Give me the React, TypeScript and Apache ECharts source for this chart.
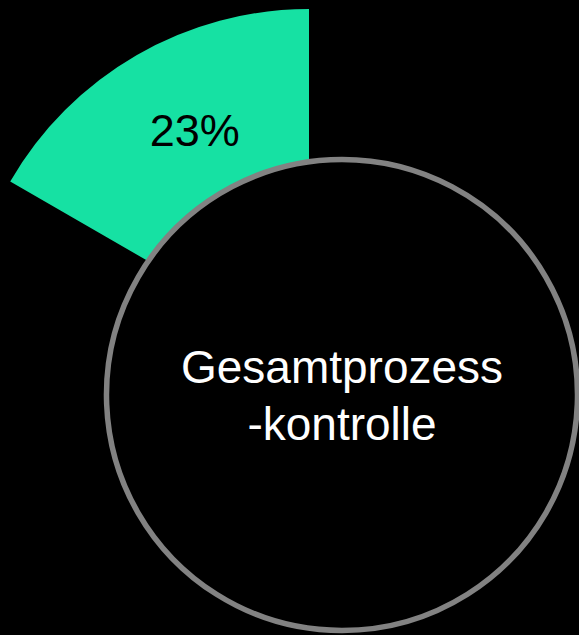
import React, { useEffect, useRef } from "react";
import * as echarts from "echarts";

// Data
const wheelSlots = 6; // the wheel is split into six equal slots
const segmentNames = ["Gesamtprozesskontrolle"];
const segmentShares = [23]; // percent shown in the visible slot
const centreLabelLines = ["Gesamtprozess", "-kontrolle"];

const FONT = "'Liberation Sans', Arial, sans-serif";

export default function App() {
  const ref = useRef<HTMLDivElement>(null);

  useEffect(() => {
    if (!ref.current) return;
    const chart = echarts.init(ref.current, undefined, { renderer: "svg" });

    const sectorData: any[] = [];
    for (let i = 0; i < wheelSlots; i++) {
      if (i < segmentNames.length) {
        sectorData.push({
          name: segmentNames[i],
          value: 1,
          itemStyle: { color: "#16e1a3" },
          label: {
            show: true,
            position: "inside",
            formatter: () => segmentShares[i] + "%",
            color: "#000",
            fontSize: 45,
            fontFamily: FONT,
            padding: [0, 0, 32, 30],
          },
        });
      } else {
        sectorData.push({
          name: "slot" + i,
          value: 1,
          itemStyle: { color: "transparent" },
          label: { show: false },
        });
      }
    }

    chart.setOption({
      animation: false,
      backgroundColor: "#000",
      series: [
        {
          type: "pie",
          z: 2,
          center: [309, 354],
          radius: [166, 345],
          startAngle: 90,
          clockwise: false,
          silent: true,
          avoidLabelOverlap: false,
          labelLine: { show: false },
          emphasis: { disabled: true },
          data: sectorData,
        },
        {
          type: "pie",
          z: 3,
          center: [342, 395],
          radius: [0, 235.5],
          silent: true,
          labelLine: { show: false },
          emphasis: { disabled: true },
          itemStyle: { color: "#000", borderColor: "#828282", borderWidth: 5.5 },
          label: {
            show: true,
            position: "center",
            formatter: () => centreLabelLines.join("\n"),
            color: "#fff",
            fontSize: 46,
            lineHeight: 57,
            fontFamily: FONT,
          },
          data: [{ name: segmentNames[0], value: 1 }],
        },
      ],
    });

    return () => chart.dispose();
  }, []);

  return (
    <div
      ref={ref}
      style={{ position: "absolute", left: 0, top: 0, width: 579, height: 635, background: "#000" }}
    />
  );
}
